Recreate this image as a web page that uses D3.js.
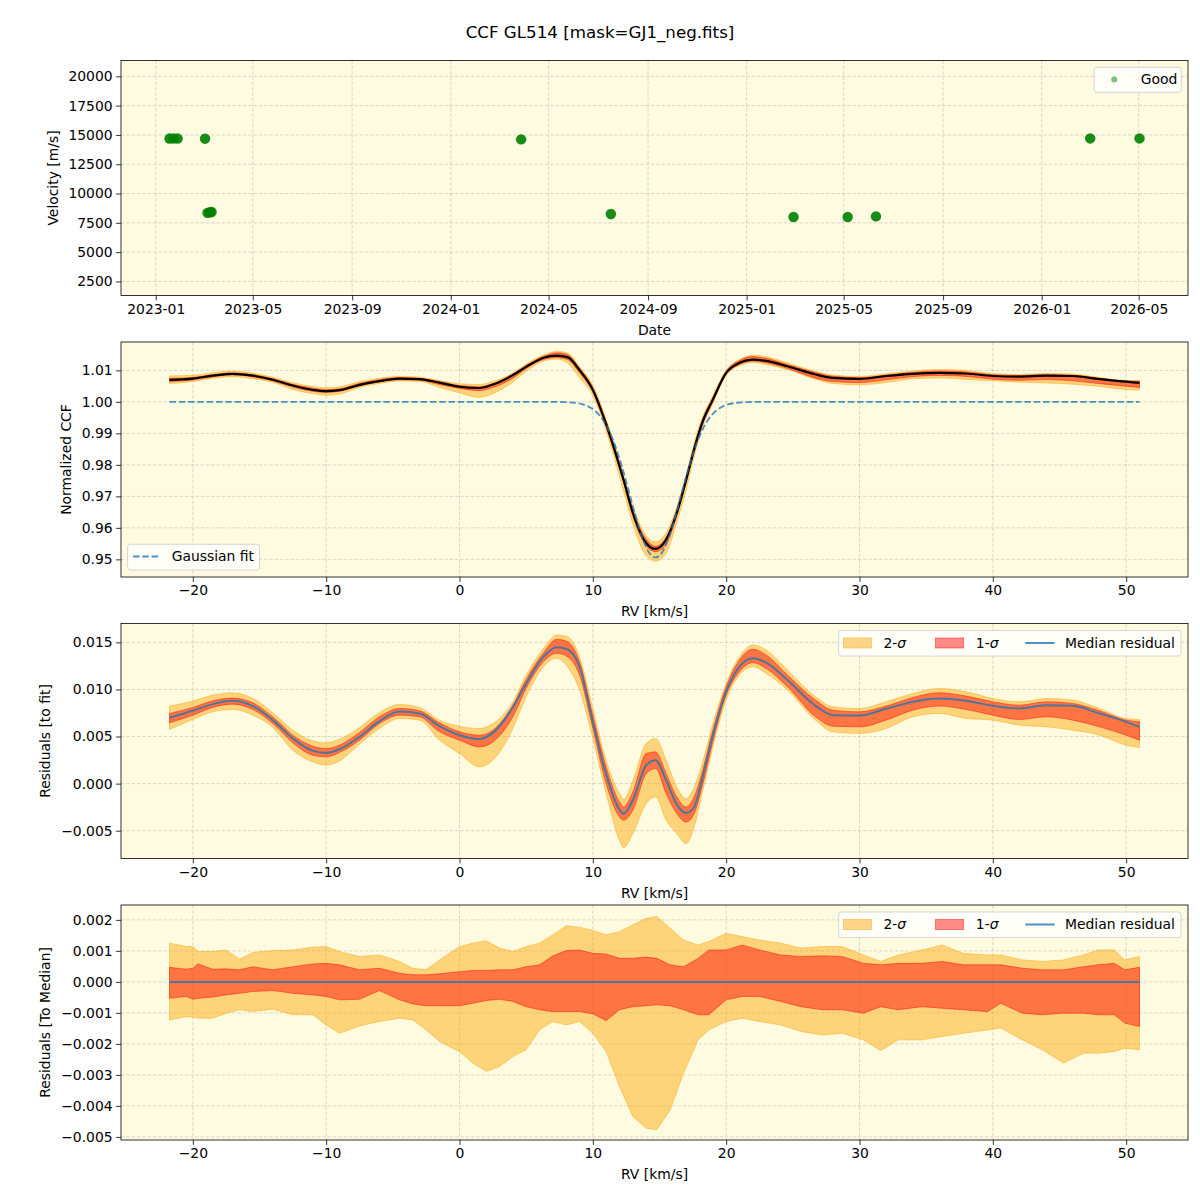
<!DOCTYPE html>
<html>
<head>
<meta charset="utf-8">
<script src="https://cdn.jsdelivr.net/npm/d3@7"></script>
<style>
  body { margin: 0; background: #fff; }
  svg  { font-family: "DejaVu Sans", sans-serif; }
</style>
</head>
<body>
<svg id="fig" width="1200" height="1200"></svg>
<script>
/* ── Data ────────────────────────────────────────────── */
// panel 1: observation epochs and velocities
const OBS_DATES = ['2023-01-18', '2023-01-23', '2023-01-28', '2023-03-03', '2023-03-06', '2023-03-09',
                   '2023-03-11', '2024-03-28', '2024-07-17', '2025-02-28', '2025-05-06', '2025-06-10',
                   '2026-03-02', '2026-05-02'];
const OBS_VEL   = [14690, 14700, 14690, 14680, 8350, 8400, 8420, 14620, 8250, 8000, 8000, 8050, 14700, 14700];

// panels 2-3: RV grid, median CCF, residuals to the fit with 1/2-sigma envelopes
const RV = [-21.75, -20, -18.5, -17, -15.5, -14, -12.5, -11, -10, -9, -7.5, -6, -4.5, -3, -1.5, 0, 1.5, 2.5,
            4, 5, 6.3, 7.3, 8.1, 9, 10, 11, 12, 12.3, 13, 14, 14.7, 15.5, 16.3, 17, 17.6, 18.2, 19, 20, 21,
            22, 23, 24.6, 26.7, 28, 30, 32, 34, 36, 38, 40, 42, 44, 46, 48, 50, 51];
const CCF = [1.0070, 1.0074, 1.0083, 1.0089, 1.0083, 1.0070, 1.0052, 1.0038, 1.0034, 1.0037, 1.0054, 1.0066,
             1.0074, 1.0072, 1.0061, 1.0048, 1.0044, 1.0055, 1.0085, 1.0111, 1.0140, 1.0147, 1.0142, 1.0101,
             1.0038, 0.9929, 0.9796, 0.9753, 0.9648, 0.9552, 0.9533, 0.9563, 0.9648, 0.9753, 0.9849, 0.9933,
             1.0007, 1.0092, 1.0124, 1.0134, 1.0130, 1.0113, 1.0087, 1.0076, 1.0073, 1.0082, 1.0089, 1.0092,
             1.0090, 1.0082, 1.0080, 1.0083, 1.0082, 1.0072, 1.0064, 1.0060];
const RES_MED = [.00699, .00773, .00844, .00879, .00823, .00674, .00479, .00348, .00326, .00365, .00496, .00663,
                 .00766, .00745, .0061, .00514, .00475, .00539, .00809, .01064, .01348, .01447, .01426, .01241,
                 .00656, .00099, -.00277, -.00319, -.00177, .00195, .00248, .00035, -.00223, -.00312, -.00248,
                 .00053, .00514, .00975, .01241, .0133, .01284, .01099, .00826, .00727, .00723, .00794, .00869,
                 .00904, .00879, .00826, .00798, .00833, .00826, .00745, .00656, .00603];
const RES_HI2 = [.00823, .00876, .0094, .00965, .00904, .00752, .00567, .00454, .00433, .00472, .00596, .00755,
                 .0084, .00809, .00674, .0061, .00585, .00638, .00869, .01152, .01436, .01578, .0156, .01348,
                 .00798, .00248, -.00106, -.00167, .00035, .00426, .00479, .00248, -.00035, -.0016, -.00035,
                 .00213, .00638, .01064, .01348, .01472, .01418, .01206, .00922, .00816, .00798, .00869, .00957,
                 .01011, .00975, .00904, .00869, .00904, .00887, .00798, .00691, .00681];
const RES_LO2 = [.00574, .00681, .00762, .00787, .00727, .00596, .00355, .0023, .00195, .00241, .00418, .00585,
                 .00691, .00674, .00461, .00319, .00177, .00248, .00585, .00922, .01241, .0133, .01241, .00993,
                 .00479, -.00106, -.00603, -.00681, -.00532, -.00213, -.00142, -.0039, -.00532, -.00638, -.00461,
                 -.00106, .0039, .00887, .01152, .01241, .0117, .00993, .00674, .0055, .00532, .00585, .00709,
                 .00745, .00691, .00674, .00621, .00603, .00567, .00514, .00408, .00383];
const RES_HI1 = [.00745, .00809, .00879, .00908, .00858, .00709, .00514, .00397, .00372, .00408, .00543, .00709,
                 .00798, .00773, .00645, .0055, .00514, .00567, .00833, .01106, .0139, .01532, .01507, .01294,
                 .00727, .00177, -.00195, -.00248, -.00089, .00319, .00337, .00106, -.00142, -.00248, -.00142,
                 .00124, .00567, .01028, .01312, .01426, .01365, .01152, .00887, .0078, .00762, .00823, .00915,
                 .00965, .00929, .00869, .00833, .00869, .00851, .00773, .00674, .00656];
const RES_LO1 = [.00645, .00727, .00809, .00844, .00787, .00638, .00433, .00301, .00284, .0033, .00461, .00638,
                 .00727, .00709, .0055, .00461, .0039, .00443, .00709, .01011, .01294, .01383, .01348, .01152,
                 .00585, 0, -.00355, -.0039, -.00284, .00106, .0016, -.00106, -.00319, -.00408, -.00319,
                 -.00035, .00443, .0094, .01188, .01284, .01223, .01028, .00709, .0061, .00603, .00674, .0078,
                 .00823, .00787, .00727, .00681, .00709, .00674, .00603, .00514, .00461];

// Gaussian fit, tabulated
const GAUSS_RV  = [-21.75, 6.7, 7.2, 7.7, 8.2, 8.7, 9.2, 9.7, 10.2, 10.7, 11.2, 11.7, 12.2, 12.7, 13.2, 13.7,
                   14.2, 14.7, 15.2, 15.7, 16.2, 16.7, 17.2, 17.7, 18.2, 18.7, 19.2, 19.7, 20.2, 20.7, 21.2,
                   21.7, 22.2, 22.7, 51];
const GAUSS_VAL = [1, 1, .99998, .99994, .99986, .99966, .99925, .99845, .99701, .99462, .99094, .9858, .97921,
                   .97161, .96382, .95699, .95228, .9506, .95228, .95699, .96382, .97161, .97921, .9858, .99094,
                   .99462, .99701, .99845, .99925, .99966, .99986, .99994, .99998, 1, 1];

// panel 4: envelopes around the median residual
const RV_M = [-21.75, -20.5, -20, -19.6, -18.5, -17.5, -16.5, -15.5, -14, -12.5, -11, -10, -9, -7.5, -6, -4.5,
              -3.5, -2.5, -1.5, 0, 1, 2, 3, 4, 5, 6, 7, 8, 9, 10, 11, 12, 13, 14, 14.8, 15.8, 16.8, 17.9, 18.7,
              20, 21.2, 22.5, 24.1, 25.6, 27.2, 28.7, 30.3, 31.6, 32.9, 34.7, 36.2, 37.8, 39.6, 40.6, 42.2, 43.7,
              45.3, 46.8, 47.9, 49.1, 49.9, 51];
const MED_HI2 = [.00125, .00114, .00114, .00098, .00098, .00103, .00073, .00095, .00101, .00103,
                 .00112, .00114, .00098, .00082, .00087, .00066, .00044, .00039, .00071, .00114,
                 .00125, .00133, .00109, .00098, .00114, .00125, .00152, .00181, .00176, .00166,
                 .00152, .00162, .00184, .00205, .00211, .00173, .00135, .00119, .0013, .00157,
                 .00146, .00135, .00125, .00109, .00114, .00114, .00087, .00066, .00087, .00103,
                 .00119, .00092, .00087, .00087, .00071, .00066, .00071, .00087, .00103, .00103,
                 .00071, .00082];
const MED_HI1 = [.00047, .00041, .00044, .00058, .00041, .00042, .00039, .00049, .00039, .00049,
                 .00058, .0006, .00055, .00039, .00044, .00028, .00023, .00023, .00026, .00033,
                 .00037, .00037, .00039, .00039, .00049, .00055, .00084, .00101, .00103, .00092,
                 .0009, .00076, .00076, .0008, .00076, .00055, .00049, .00076, .00103, .00103,
                 .00119, .00103, .00087, .00082, .00084, .00082, .0006, .00055, .0006, .0006,
                 .00066, .00055, .00055, .00055, .00044, .00039, .00039, .00049, .00055, .0006,
                 .00039, .00047];
const MED_LO1 = [-.00053, -.00047, -.00056, -.00053, -.00049, -.00042, -.00037, -.00031, -.00028, -.00037,
                 -.00042, -.00047, -.00058, -.00056, -.00028, -.00058, -.00071, -.00077, -.00077, -.00077,
                 -.00069, -.0006, -.00056, -.00063, -.0008, -.0009, -.00096, -.00096, -.00096, -.00103,
                 -.00125, -.0009, -.0008, -.00077, -.00074, -.00077, -.0009, -.00106, -.00106, -.00058,
                 -.00047, -.00047, -.00063, -.0008, -.0009, -.0009, -.00101, -.0008, -.0009, -.0008,
                 -.00085, -.0009, -.00096, -.00069, -.00101, -.00106, -.00101, -.00101, -.00106, -.00106,
                 -.00133, -.00144];
const MED_LO2 = [-.00123, -.00112, -.00114, -.00117, -.00117, -.00101, -.0009, -.00096, -.00088, -.00106,
                 -.00106, -.00139, -.00166, -.00142, -.00128, -.00117, -.00123, -.00155, -.00192, -.00225,
                 -.00262, -.00289, -.00273, -.00241, -.00219, -.00155, -.00128, -.00139, -.00128, -.00166,
                 -.00225, -.00338, -.00434, -.00472, -.00477, -.00413, -.00295, -.00187, -.00155, -.00128,
                 -.00117, -.00128, -.00139, -.0016, -.00171, -.00166, -.00187, -.00222, -.00187, -.00187,
                 -.00176, -.00166, -.00155, -.00149, -.00187, -.00219, -.00262, -.0023, -.0023, -.00225,
                 -.00214, -.00219];

// tick labels
const RV_TICKS   = [-20, -10, 0, 10, 20, 30, 40, 50];
const VEL_TICKS  = [2500, 5000, 7500, 10000, 12500, 15000, 17500, 20000];
const CCF_TICKS  = [0.95, 0.96, 0.97, 0.98, 0.99, 1.00, 1.01];
const FIT_TICKS  = [-0.005, 0, 0.005, 0.010, 0.015];
const MED_TICKS  = [-0.005, -0.004, -0.003, -0.002, -0.001, 0, 0.001, 0.002];

/* ── Layout ──────────────────────────────────────────── */
const FONT  = '"DejaVu Sans", sans-serif';
const AX_L  = 121, AX_R = 1188, AX_H = 235;
const TOPS  = [60.5, 342, 623.5, 905];
const BG    = '#fefbe1';
const C2SIG = '#ffa500', C1SIG = '#ff0000', CMED = '#1f77b4';

const svg  = d3.select('#fig');
const defs = svg.append('defs');

// 5% margins on each side, like matplotlib autoscale
function pad(ext) {
  const a = +ext[0], b = +ext[1], s = b - a;
  return [a - 0.05 * s, b + 0.05 * s];
}

/* ── Panel frame: background, grid, clip ─────────────── */
function makePanel(i, x, y, xTicks, yTicks) {
  const top = TOPS[i], bot = top + AX_H;
  const g = svg.append('g');
  g.append('rect')
    .attr('x', AX_L).attr('y', top).attr('width', AX_R - AX_L).attr('height', AX_H)
    .attr('fill', BG);

  const grid = g.append('g')
    .attr('stroke', '#b0b0b0').attr('stroke-opacity', 0.6)
    .attr('stroke-width', 0.8).attr('stroke-dasharray', '3.5,1.8');
  grid.selectAll('.gx').data(xTicks).join('line').attr('class', 'gx')
    .attr('x1', d => x(d)).attr('x2', d => x(d)).attr('y1', top).attr('y2', bot);
  grid.selectAll('.gy').data(yTicks).join('line').attr('class', 'gy')
    .attr('x1', AX_L).attr('x2', AX_R).attr('y1', d => y(d)).attr('y2', d => y(d));

  defs.append('clipPath').attr('id', `clip${i}`)
    .append('rect').attr('x', AX_L).attr('y', top).attr('width', AX_R - AX_L).attr('height', AX_H);
  const plot = g.append('g').attr('clip-path', `url(#clip${i})`);
  return { g, plot, top, bot };
}

/* ── Axes, spines and labels ─────────────────────────── */
function finishPanel(p, x, y, xTicks, yTicks, xFmt, yFmt, xLabel, yLabel, yLabelX) {
  const ax = svg.append('g').attr('transform', `translate(0,${p.bot})`)
    .call(d3.axisBottom(x).tickValues(xTicks).tickFormat(xFmt).tickSize(4.9).tickPadding(3.5));
  const ay = svg.append('g').attr('transform', `translate(${AX_L},0)`)
    .call(d3.axisLeft(y).tickValues(yTicks).tickFormat(yFmt).tickSize(4.9).tickPadding(3.5));
  [ax, ay].forEach(a => {
    a.attr('font-size', 13.9).attr('font-family', FONT);
    a.select('.domain').remove();
    a.selectAll('line').attr('stroke', '#000').attr('stroke-width', 0.8);
    a.selectAll('text').attr('fill', '#000');
  });

  svg.append('rect')
    .attr('x', AX_L).attr('y', p.top).attr('width', AX_R - AX_L).attr('height', AX_H)
    .attr('fill', 'none').attr('stroke', '#000').attr('stroke-width', 0.8);

  svg.append('text')
    .attr('x', (AX_L + AX_R) / 2).attr('y', p.bot + 34.5).attr('dy', '0.35em')
    .attr('text-anchor', 'middle').attr('font-size', 13.9).text(xLabel);
  svg.append('text')
    .attr('transform', `translate(${yLabelX},${p.top + AX_H / 2}) rotate(-90)`)
    .attr('dy', '0.35em').attr('text-anchor', 'middle').attr('font-size', 13.9).text(yLabel);
}

function legendBox(x, y, w, h) {
  svg.append('rect').attr('x', x).attr('y', y).attr('width', w).attr('height', h).attr('rx', 2.8)
    .attr('fill', '#fff').attr('fill-opacity', 0.8).attr('stroke', '#cccccc').attr('stroke-width', 0.8);
}

function sigmaText(x, y, n) {
  const t = svg.append('text').attr('x', x).attr('y', y).attr('dy', '0.35em').attr('font-size', 13.9);
  t.append('tspan').text(`${n}-`);
  t.append('tspan').attr('font-style', 'italic').text('σ');
}

function sigmaLegend(top) {
  const cy = top + 19.5;
  legendBox(838.7, top + 7, 342.3, 25.5);
  svg.append('rect').attr('x', 843.5).attr('y', cy - 5).attr('width', 28).attr('height', 10)
    .attr('fill', C2SIG).attr('fill-opacity', 0.45).attr('stroke', C2SIG).attr('stroke-opacity', 0.45);
  sigmaText(883.5, cy, 2);
  svg.append('rect').attr('x', 935.5).attr('y', cy - 5).attr('width', 28).attr('height', 10)
    .attr('fill', C1SIG).attr('fill-opacity', 0.45).attr('stroke', C1SIG).attr('stroke-opacity', 0.45);
  sigmaText(975.8, cy, 1);
  svg.append('line').attr('x1', 1025.3).attr('x2', 1054.6).attr('y1', cy).attr('y2', cy)
    .attr('stroke', CMED).attr('stroke-opacity', 0.8).attr('stroke-width', 2);
  svg.append('text').attr('x', 1065).attr('y', cy).attr('dy', '0.35em').attr('font-size', 13.9)
    .text('Median residual');
}

function band(plot, xs, lo, hi, x, y, color, curve) {
  const area = d3.area().curve(curve)
    .x((d, i) => x(xs[i])).y0((d, i) => y(lo[i])).y1((d, i) => y(hi[i]));
  plot.append('path').datum(xs).attr('d', area)
    .attr('fill', color).attr('fill-opacity', 0.45)
    .attr('stroke', color).attr('stroke-opacity', 0.45).attr('stroke-width', 1);
}

function line(plot, xs, ys, x, y, curve) {
  return plot.append('path').datum(xs)
    .attr('d', d3.line().curve(curve).x((d, i) => x(xs[i])).y((d, i) => y(ys[i])))
    .attr('fill', 'none');
}

/* ── Title ───────────────────────────────────────────── */
svg.append('text').attr('x', 600).attr('y', 32).attr('dy', '0.35em')
  .attr('text-anchor', 'middle').attr('font-size', 16.7).text('CCF GL514 [mask=GJ1_neg.fits]');

/* ── Panel 1: velocity vs date ───────────────────────── */
const dates = OBS_DATES.map(d => new Date(d + 'T00:00:00Z'));
const x1 = d3.scaleUtc().domain(pad(d3.extent(dates)).map(t => new Date(t))).range([AX_L, AX_R]);
const y1 = d3.scaleLinear().domain([1300, 21350]).range([TOPS[0] + AX_H, TOPS[0]]);
const dateTicks = d3.utcMonth.every(4).range(new Date(Date.UTC(2023, 0, 1)), new Date(Date.UTC(2026, 5, 1)));
const p1 = makePanel(0, x1, y1, dateTicks, VEL_TICKS);
p1.plot.selectAll('circle').data(dates).join('circle')
  .attr('cx', d => x1(d)).attr('cy', (d, i) => y1(OBS_VEL[i])).attr('r', 5.2)
  .attr('fill', 'green').attr('fill-opacity', 0.9);
finishPanel(p1, x1, y1, dateTicks, VEL_TICKS, d3.utcFormat('%Y-%m'), d3.format('d'),
  'Date', 'Velocity [m/s]', 53);
legendBox(1094.2, 67.3, 87.1, 25);
svg.append('circle').attr('cx', 1114.2).attr('cy', 79.6).attr('r', 3)
  .attr('fill', 'green').attr('fill-opacity', 0.5);
svg.append('text').attr('x', 1140.7).attr('y', 79.6).attr('dy', '0.35em').attr('font-size', 13.9).text('Good');

/* ── Panel 2: normalized CCF ─────────────────────────── */
const xr = d3.scaleLinear().domain(pad(d3.extent(RV))).range([AX_L, AX_R]);
const y2 = d3.scaleLinear().domain([0.9444, 1.0190]).range([TOPS[1] + AX_H, TOPS[1]]);
const p2 = makePanel(1, xr, y2, RV_TICKS, CCF_TICKS);
const ccfLo2 = CCF.map((c, i) => c + RES_LO2[i] - RES_MED[i]);
const ccfHi2 = CCF.map((c, i) => c + RES_HI2[i] - RES_MED[i]);
const ccfLo1 = CCF.map((c, i) => c + RES_LO1[i] - RES_MED[i]);
const ccfHi1 = CCF.map((c, i) => c + RES_HI1[i] - RES_MED[i]);
band(p2.plot, RV, ccfLo2, ccfHi2, xr, y2, C2SIG, d3.curveMonotoneX);
band(p2.plot, RV, ccfLo1, ccfHi1, xr, y2, C1SIG, d3.curveMonotoneX);
line(p2.plot, RV, CCF, xr, y2, d3.curveMonotoneX).attr('stroke', '#000').attr('stroke-width', 2.2);
line(p2.plot, GAUSS_RV, GAUSS_VAL, xr, y2, d3.curveMonotoneX)
  .attr('stroke', CMED).attr('stroke-opacity', 0.8).attr('stroke-width', 1.8).attr('stroke-dasharray', '6.5,2.8');
finishPanel(p2, xr, y2, RV_TICKS, CCF_TICKS, d3.format('d'), d3.format('.2f'),
  'RV [km/s]', 'Normalized CCF', 66);
legendBox(127.6, 544.3, 131.9, 25.7);
svg.append('line').attr('x1', 133).attr('x2', 160.6).attr('y1', 556.5).attr('y2', 556.5)
  .attr('stroke', CMED).attr('stroke-opacity', 0.8).attr('stroke-width', 1.8).attr('stroke-dasharray', '6.5,2.8');
svg.append('text').attr('x', 171.7).attr('y', 556.5).attr('dy', '0.35em').attr('font-size', 13.9).text('Gaussian fit');

/* ── Panel 3: residuals to fit ───────────────────────── */
const y3 = d3.scaleLinear().domain([-0.00795, 0.0170]).range([TOPS[2] + AX_H, TOPS[2]]);
const p3 = makePanel(2, xr, y3, RV_TICKS, FIT_TICKS);
band(p3.plot, RV, RES_LO2, RES_HI2, xr, y3, C2SIG, d3.curveMonotoneX);
band(p3.plot, RV, RES_LO1, RES_HI1, xr, y3, C1SIG, d3.curveMonotoneX);
line(p3.plot, RV, RES_MED, xr, y3, d3.curveMonotoneX)
  .attr('stroke', CMED).attr('stroke-opacity', 0.8).attr('stroke-width', 2);
finishPanel(p3, xr, y3, RV_TICKS, FIT_TICKS, d3.format('d'), d3.format('.3f'),
  'RV [km/s]', 'Residuals [to fit]', 45);
sigmaLegend(TOPS[2]);

/* ── Panel 4: residuals to median ────────────────────── */
const y4 = d3.scaleLinear().domain([-0.0051, 0.00248]).range([TOPS[3] + AX_H, TOPS[3]]);
const p4 = makePanel(3, xr, y4, RV_TICKS, MED_TICKS);
band(p4.plot, RV_M, MED_LO2, MED_HI2, xr, y4, C2SIG, d3.curveLinear);
band(p4.plot, RV_M, MED_LO1, MED_HI1, xr, y4, C1SIG, d3.curveLinear);
line(p4.plot, RV_M, RV_M.map(() => 0), xr, y4, d3.curveLinear)
  .attr('stroke', CMED).attr('stroke-opacity', 0.8).attr('stroke-width', 2);
finishPanel(p4, xr, y4, RV_TICKS, MED_TICKS, d3.format('d'), d3.format('.3f'),
  'RV [km/s]', 'Residuals [To Median]', 45);
sigmaLegend(TOPS[3]);
</script>
</body>
</html>
